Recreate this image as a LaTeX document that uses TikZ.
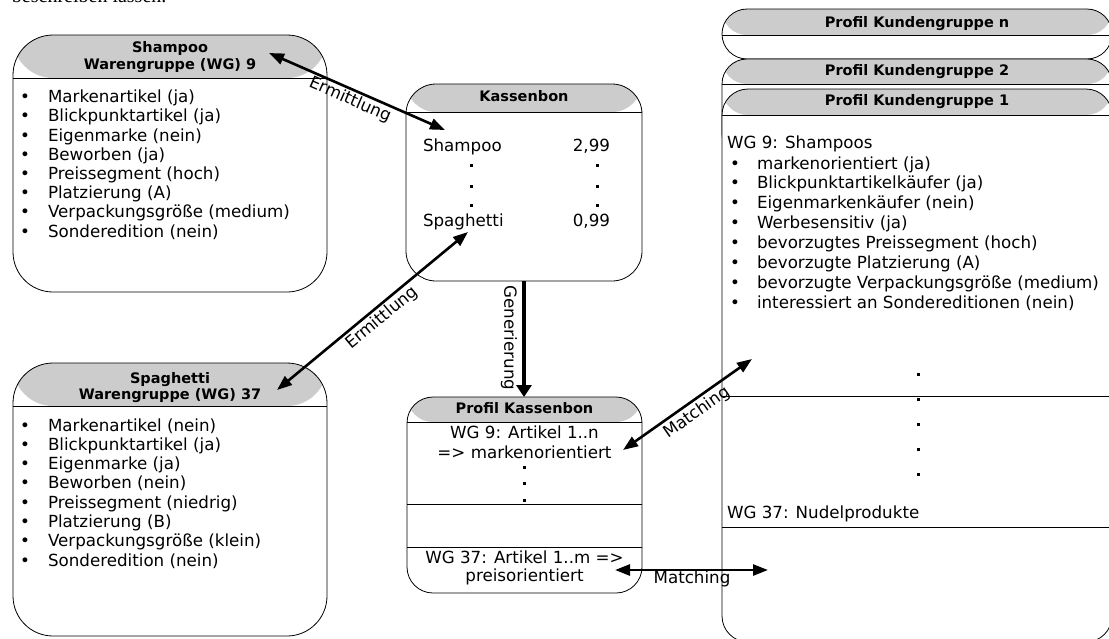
\documentclass[tikz,border=0pt]{standalone}
\usepackage{fontspec}
\setmainfont{DejaVu Sans}
\newfontfamily\pageserif{Liberation Serif}
\usetikzlibrary{arrows.meta}
\definecolor{hdrgray}{RGB}{204,204,204}
\begin{document}
\begin{tikzpicture}[x=1pt,y=-1pt,
  every node/.style={inner sep=0pt,outer sep=0pt},
  hbox/.style 2 args={draw,line width=0.8pt,rounded corners=#1,anchor=north west,fill=white,
    path picture={
      \fill[hdrgray] (path picture bounding box.north west) rectangle ([yshift=-#2]path picture bounding box.north east);
      \draw[line width=0.8pt] ([yshift=-#2]path picture bounding box.north west) -- ([yshift=-#2]path picture bounding box.north east);}},
  txt/.style={font=\fontsize{16.7}{19}\selectfont,anchor=base west},
  ctxt/.style={font=\fontsize{16.7}{19}\selectfont,anchor=base},
  hd/.style={font=\fontsize{14.5}{16}\selectfont\bfseries,anchor=base},
  lbl/.style={font=\fontsize{16.7}{19}\selectfont},
  sqdot/.style={fill=black,minimum width=3pt,minimum height=3pt,inner sep=0pt,draw=none},
  conn/.style={line width=2.6pt,{Triangle[length=15pt,width=11pt]}-{Triangle[length=15pt,width=11pt]}},
  gen/.style={line width=4pt,-{Triangle[length=12pt,width=15pt]}},
  sep/.style={line width=0.8pt}
]
\useasboundingbox (0,0) rectangle (1109,638);
\clip (0,0) rectangle (1109,638);

% cut-off page text (only its lower edge shows)
\node[font=\pageserif\fontsize{20}{22}\selectfont,anchor=base west] (pagetxt) at (12,2) {beschreiben lassen.};

% ---------- Shampoo box ----------
\node[hbox={40pt}{43pt},minimum width=314pt,minimum height=257pt] (shampoo) at (13,35) {};
\node[hd] (shh1) at (170,52.5) {Shampoo};
\node[hd] (shh2) at (170,69.5) {Warengruppe (WG) 9};
\foreach \t [count=\i from 0] in {Markenartikel (ja),Blickpunktartikel (ja),Eigenmarke (nein),Beworben (ja),Preissegment (hoch),Platzierung (A),Verpackungsgröße (medium),Sonderedition (nein)}{
  \node[txt] (shb\i) at (20,102.7+\i*19.2) {\textbullet};
  \node[txt] (sht\i) at (48,102.7+\i*19.2) {\t};
}

% ---------- Spaghetti box ----------
\node[hbox={40pt}{43pt},minimum width=314pt,minimum height=273pt] (spag) at (13,363) {};
\node[hd] (sph1) at (170,383.5) {Spaghetti};
\node[hd] (sph2) at (170,399.5) {Warengruppe (WG) 37};
\foreach \t [count=\i from 0] in {Markenartikel (nein),Blickpunktartikel (ja),Eigenmarke (ja),Beworben (nein),Preissegment (niedrig),Platzierung (B),Verpackungsgröße (klein),Sonderedition (nein)}{
  \node[txt] (spb\i) at (20,431+\i*19.3) {\textbullet};
  \node[txt] (spt\i) at (48,431+\i*19.3) {\t};
}

% ---------- Kassenbon ----------
\node[hbox={30pt}{28pt},minimum width=236pt,minimum height=197pt] (kb) at (406,84) {};
\node[hd] (kbh) at (524,101.5) {Kassenbon};
\node[txt] (kbs) at (423,151) {Shampoo};
\node[txt,anchor=base east] (kbsp) at (610,151) {2,99};
\node[txt] (kbg) at (423,226) {Spaghetti};
\node[txt,anchor=base east] (kbgp) at (610,226) {0,99};
\foreach \yy [count=\i] in {165,186,205}{
  \node[sqdot] (kbdl\i) at (471,\yy) {};
  \node[sqdot] (kbdr\i) at (597,\yy) {};
}

% ---------- Profil Kassenbon ----------
\node[hbox={26pt}{25pt},minimum width=235pt,minimum height=196pt] (pkb) at (407,397) {};
\node[hd] (pkbh) at (524.5,413.5) {Profil Kassenbon};
\node[ctxt] (pk1) at (524.5,438) {WG 9: Artikel 1..n};
\node[ctxt] (pk2) at (524.5,458) {=> markenorientiert};
\foreach \yy [count=\i] in {467,483,500}{
  \node[sqdot] (pkd\i) at (524,\yy) {};
}
\draw[sep] (pkb.west |- 0,504) -- (pkb.east |- 0,504);
\draw[sep] (pkb.west |- 0,547) -- (pkb.east |- 0,547);
\node[ctxt] (pk3) at (524.5,563) {WG 37: Artikel 1..m =>};
\node[ctxt] (pk4) at (524.5,581) {preisorientiert};

% ---------- Profile stack ----------
\node[hbox={25pt}{26pt},minimum width=390pt,minimum height=50pt] (pn) at (722,9) {};
\node[hd] (pnh) at (917,27.5) {Profil Kundengruppe n};
\node[hbox={25pt}{25pt},minimum width=390pt,minimum height=100pt] (p2) at (722,59) {};
\node[hd] (p2h) at (917,75.5) {Profil Kundengruppe 2};
\node[hbox={26pt}{26pt},minimum width=390pt,minimum height=553pt] (p1) at (722,89) {};
\node[hd] (p1h) at (917,105.5) {Profil Kundengruppe 1};
\node[txt] (p1w9) at (727,148) {WG 9: Shampoos};
\foreach \t [count=\i from 0] in {markenorientiert (ja),Blickpunktartikelkäufer (ja),Eigenmarkenkäufer (nein),Werbesensitiv (ja),bevorzugtes Preissegment (hoch),bevorzugte Platzierung (A),bevorzugte Verpackungsgröße (medium),interessiert an Sondereditionen (nein)}{
  \node[txt] (p1b\i) at (730,169+\i*19.9) {\textbullet};
  \node[txt] (p1t\i) at (757,169+\i*19.9) {\t};
}
\foreach \yy [count=\i] in {374,399,424,449,474}{
  \node[sqdot] (p1d\i) at (918,\yy) {};
}
\draw[sep] (p1.west |- 0,396) -- (p1.east |- 0,396);
\node[txt] (p1w37) at (727,518) {WG 37: Nudelprodukte};
\draw[sep] (p1.west |- 0,527) -- (p1.east |- 0,527);

% ---------- Connectors ----------
\coordinate (e1a) at (269,53);
\coordinate (e1b) at (445,130);
\coordinate (e2a) at (277,390);
\coordinate (e2b) at (468,232);
\coordinate (ga) at (kb.south -| 524,0);
\coordinate (gb) at (pkb.north -| 524,0);
\coordinate (m1a) at (623,450);
\coordinate (m1b) at (752,359);
\coordinate (m2a) at (615,570);
\coordinate (m2b) at (768,570);

\draw[conn] (e1a) -- (e1b);
\draw[conn] (e2a) -- (e2b);
\draw[gen] (ga) -- (gb);
\draw[conn] (m1a) -- (m1b);
\draw[conn] (m2a) -- (m2b);

\node[lbl,rotate=-23.6] (le1) at (350,100) {Ermittlung};
\node[lbl,rotate=39.6] (le2) at (382,318) {Ermittlung};
\node[lbl,rotate=-90] (lg) at (509,338) {Generierung};
\node[lbl,rotate=35] (lm1) at (697,413) {Matching};
\node[lbl] (lm2) at (692,579) {Matching};
\end{tikzpicture}
\end{document}
